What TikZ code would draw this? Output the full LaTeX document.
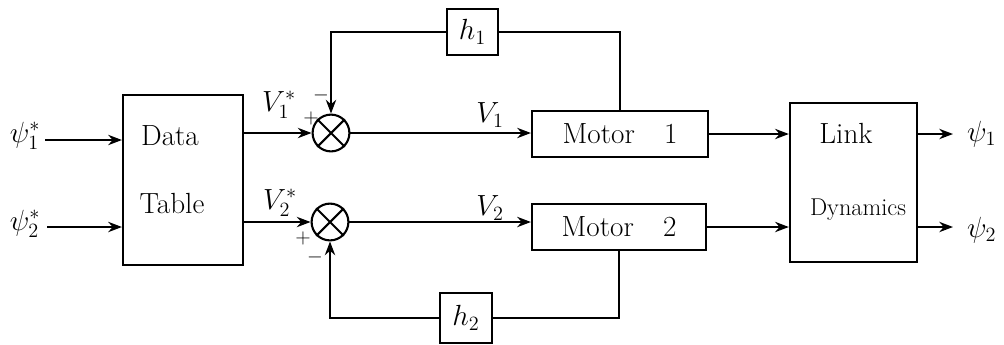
\documentclass[tikz,border=0pt]{standalone}
\usetikzlibrary{arrows.meta}
\usepackage{amsmath}

\begin{document}
\begin{tikzpicture}[>=Stealth,line width=1.5pt,x=0.025cm,y=-0.025cm,
  blk/.style={draw,inner sep=0pt,font=\huge},
  sumj/.style={draw,circle,minimum size=0.92cm,inner sep=0pt},
  lbl/.style={font=\huge}]
\useasboundingbox (0,0) rectangle (1004,344);
% ---- 方块 ----
\node[blk,minimum width=3cm,minimum height=4.25cm] (dt) at (183,180) {};
\node[lbl] (dta) at (170,136) {Data};
\node[lbl] (tbl) at (172,203) {Table};
\node[blk,minimum width=4.4cm,minimum height=1.13cm] (m1) at (620,134) {Motor\quad 1};
\node[blk,minimum width=4.35cm,minimum height=1.15cm] (m2) at (619,227) {Motor\quad 2};
\node[blk,minimum width=3.18cm,minimum height=3.98cm] (lk) at (853.5,182.5) {};
\node[lbl] (lnk) at (846,133) {Link};
\node[font=\LARGE] (dyn) at (858,210) {Dynamics};
\node[blk,minimum width=1.28cm,minimum height=1.13cm] (h1) at (472.5,32) {$h_1$};
\node[blk,minimum width=1.3cm,minimum height=1.25cm] (h2) at (466,318) {$h_2$};
% ---- 求和点 ----
\node[sumj] (s1) at (331,133) {};
\draw (s1.north west) -- (s1.south east) (s1.north east) -- (s1.south west);
\node[sumj] (s2) at (330,222) {};
\draw (s2.north west) -- (s2.south east) (s2.north east) -- (s2.south west);
% ---- 输入输出 ----
\node[lbl] (p1s) at (25,136) {$\psi_1^*$};
\node[lbl] (p2s) at (25,224) {$\psi_2^*$};
\coordinate (in1) at (45,140);
\coordinate (in2) at (47,227);
\draw[->] (in1) -- (in1 -| dt.west);
\draw[->] (in2) -- (in2 -| dt.west);
\coordinate (o1) at (953,134);
\coordinate (o2) at (953,227);
\draw[->] (o1 -| lk.east) -- (o1);
\draw[->] (o2 -| lk.east) -- (o2);
\node[lbl,anchor=east] (p1) at (1002,134) {$\psi_1$};
\node[lbl,anchor=east] (p2) at (1002,230) {$\psi_2$};
% ---- 前向通道 ----
\draw[->] (s1.west -| dt.east) -- (s1.west);
\draw[->] (s2.west -| dt.east) -- (s2.west);
\draw[->] (s1.east) -- (s1.east -| m1.west);
\draw[->] (s2.east) -- (s2.east -| m2.west);
\draw[->] (m1.east) -- (m1.east -| lk.west);
\draw[->] (m2.east) -- (m2.east -| lk.west);
% ---- 反馈 ----
\draw (m1.north) |- (h1.east);
\draw[->] (h1.west) -| (s1.north);
\draw (m2.south) |- (h2.east);
\draw[->] (h2.west) -| (s2.south);
% ---- 信号标注 ----
\node[lbl] (v1s) at (279,105) {$V_1^*$};
\node[lbl] (v2s) at (280,203) {$V_2^*$};
\node[font=\Large] (pl1) at (311,118) {$+$};
\node[font=\Large] (mi1) at (321,95) {$-$};
\node[font=\Large] (pl2) at (303,238) {$+$};
\node[font=\Large] (mi2) at (315,257) {$-$};
\node[lbl] (v1) at (490,115) {$V_1$};
\node[lbl] (v2) at (490,208) {$V_2$};
\end{tikzpicture}
\end{document}
